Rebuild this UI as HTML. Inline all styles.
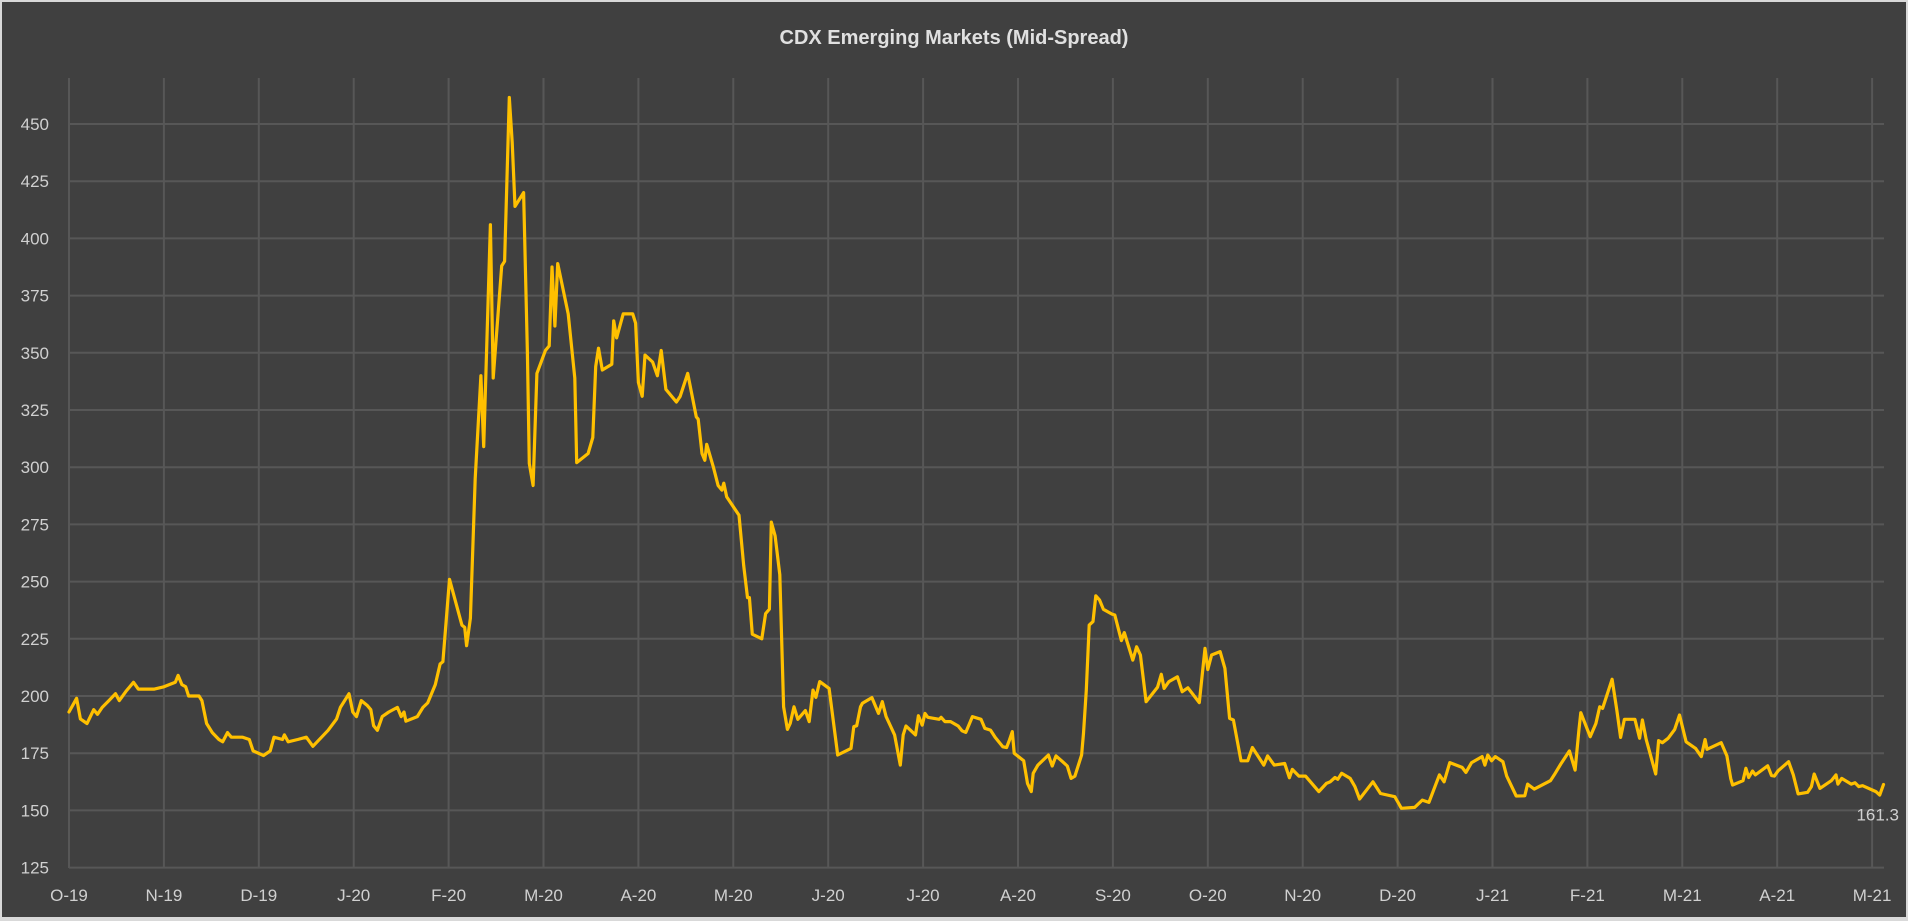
<!DOCTYPE html>
<html><head><meta charset="utf-8"><style>
html,body{margin:0;padding:0;background:#d9d9d9;}
#wrap{position:absolute;left:0;top:0;width:1908px;height:921px;}
svg{display:block}
</style></head><body>
<div id="wrap">
<svg id="chart" width="1908" height="921" viewBox="0 0 1908 921">
<rect x="2" y="2" width="1904" height="915" fill="#404040"/>
<text x="954" y="44" text-anchor="middle" font-family="Liberation Sans, sans-serif" font-weight="bold" font-size="20" fill="#e0e0e0">CDX Emerging Markets (Mid-Spread)</text>
<g id="grid"></g>
<g id="yaxis"></g>
<g id="xaxis"></g>
<g id="series"></g>
</svg>
</div>
<script>
const monthLabels=["O-19","N-19","D-19","J-20","F-20","M-20","A-20","M-20","J-20","J-20","A-20","S-20","O-20","N-20","D-20","J-21","F-21","M-21","A-21","M-21"];
const yTicks=[125,150,175,200,225,250,275,300,325,350,375,400,425,450];
const lastLabel="161.3";
// months since Oct-2019
const times=[0,.08,.12,.19,.26,.30,.35,.42,.49,.53,.60,.68,.73,.83,.90,1.00,1.12,1.15,1.19,1.23,1.26,1.37,1.40,1.45,1.51,1.58,1.62,1.67,1.71,1.83,1.90,1.94,2.05,2.12,2.16,2.25,2.27,2.31,2.41,2.50,2.57,2.73,2.82,2.86,2.95,2.99,3.03,3.08,3.14,3.18,3.21,3.25,3.30,3.37,3.46,3.50,3.53,3.55,3.67,3.73,3.78,3.86,3.91,3.94,
4.01,4.14,4.17,4.19,4.23,4.28,4.34,4.37,4.44,4.47,4.56,4.59,4.64,4.67,4.70,4.79,4.83,4.85,4.89,4.93,5.02,5.06,5.09,5.12,5.15,5.26,5.33,5.35,5.47,5.52,5.55,5.58,5.62,5.72,5.74,5.77,5.84,5.94,5.97,6.00,6.04,6.07,6.15,6.20,6.24,6.29,6.40,6.44,
6.52,6.61,6.63,6.67,6.70,6.72,6.79,6.84,6.88,6.90,6.93,7.06,7.11,7.15,7.17,7.20,7.30,7.34,7.38,7.40,7.44,7.49,
7.53,7.57,7.60,7.64,7.68,7.76,7.80,7.84,7.87,7.91,8.01,8.10,8.24,8.27,8.30,8.34,8.36,8.46,8.53,8.57,8.61,8.70,8.76,8.79,8.82,8.92,8.95,8.99,9.02,9.05,9.17,9.19,9.23,9.29,9.37,9.41,9.45,9.52,9.61,9.65,9.71,9.76,9.84,9.88,9.91,9.94,9.96,10.06,10.10,10.14,10.16,10.21,10.32,10.36,10.40,10.47,10.52,10.56,10.60,10.67,10.69,10.72,10.75,10.79,10.82,10.86,10.90,10.99,11.02,11.09,11.12,11.21,11.25,11.29,11.35,11.47,11.51,11.54,11.59,11.68,11.73,11.79,11.91,11.97,12.00,12.04,12.13,12.18,12.23,12.27,12.35,12.42,12.47,12.59,12.63,12.70,12.81,12.86,12.89,12.96,
13.03,13.09,13.17,13.25,13.29,13.34,13.37,13.41,13.50,13.55,13.60,13.74,13.82,13.97,14.04,14.18,14.26,14.33,14.44,14.49,14.55,14.68,14.72,14.78,14.89,14.92,14.95,14.99,15.03,15.11,15.15,15.25,15.34,15.37,15.44,15.61,15.65,15.72,15.81,15.87,15.91,15.93,16.03,16.09,16.13,16.16,16.26,16.31,16.35,16.39,16.50,16.55,16.58,16.62,16.72,16.75,16.79,16.85,16.92,16.97,17.04,17.14,17.20,17.24,17.26,17.41,17.47,17.51,17.53,17.64,17.67,17.70,17.74,17.77,17.90,17.94,17.97,18.01,18.12,18.17,18.22,18.32,18.36,18.39,18.45,18.57,18.62,18.64,18.68,18.78,18.82,18.86,18.90,19.04,19.08,19.12];
const spreads=[193,199,190,188,194,192,195,198,201,198,202,206,203,203,203,204,206,209,205,204,200,200,198,188,184,181,180,184,182,182,181,176,174,176,182,181,183,180,181,182,178,185,190,195,201,193,191,198,196,194,187,185,191,193,195,191,193,189,191,195,197,205,214,215,
251,231,230,222,234,295,340,309,406,339,388,390,461.6,442,414,420,350,301.6,292,341,351,353,387.5,361.7,389,367,339,302,306,313,344,352,342.5,345,364,356.5,367,367,363,337,331,349,346,340,351,334,328.5,331,
341,322,321,306,303,310,300,292,290,293,287,279,257,243,243,227,225,236,238,276,270,253,
195.3,185.4,188,195.3,189.8,193.6,188.8,202.6,199.4,206.3,203.3,174.2,177.1,186.6,187,195.3,196.8,199.3,192.4,197.5,191,183,169.8,183,186.9,183,191.4,187.3,192.4,190.7,189.8,190.7,188.8,188.8,186.9,184.8,184.1,191,189.8,185.9,185.1,181.9,177.8,177.5,180.8,184.4,175,171.7,161.8,158.2,166.2,169.8,174.2,169.4,173.8,171.3,169.4,164,165,174.2,183.7,202.6,231,232.5,243.8,241.9,237.9,235.8,235.4,224.2,227.7,215.7,221.5,217.9,197.5,203.8,209.5,203.3,206.3,208.4,201.9,203.6,197.1,220.8,211.6,217.9,219.4,212.1,190.2,189.5,171.7,171.7,177.5,169.8,173.8,169.8,170.5,164.3,167.9,165,
165,162.1,158.2,161.8,162.5,164.4,163.6,166.2,164,160.4,155,162.5,157.4,156,150.9,151.3,154.5,153.5,165.5,162.5,170.9,168.8,166.6,170.9,173.5,169.8,174.2,171.7,173.5,171.3,165,156.3,156.4,161.5,159.3,163,165.5,170.3,176,167.6,185.1,192.7,182.2,188,195.3,194.6,207.3,193.9,181.9,189.8,189.8,181.5,189.5,181,165.9,180.5,179.6,181.5,185.4,191.7,180,177.1,173.5,181,176.7,179.6,173.8,164,161.1,163,168.4,164.4,167.2,165.5,169.5,165.2,165,167.3,171.3,165.5,157.2,157.9,160.4,165.9,159.6,163,165.5,161.5,164,161.5,162.1,160.4,160.8,158.2,156.7,161.3];

const NS="http://www.w3.org/2000/svg";
const X0=69,XSTEP=94.9,Y450=124,PXU=57.2/25;
function xScale(t){return X0+t*XSTEP;}
function yScale(v){return Y450+(450-v)*PXU;}
function mk(tag,attrs,parent){const e=document.createElementNS(NS,tag);for(const k in attrs)e.setAttribute(k,attrs[k]);parent.appendChild(e);return e;}
const grid=document.getElementById('grid'),ya=document.getElementById('yaxis'),xa=document.getElementById('xaxis'),ser=document.getElementById('series');
const font="Liberation Sans, sans-serif";
yTicks.forEach(v=>{
  const l=mk('line',{x1:X0,x2:1884,y1:yScale(v),y2:yScale(v),stroke:'#575757','stroke-width':2},grid);
  
  
  const t=mk('text',{x:49,y:yScale(v)+6,'text-anchor':'end','font-family':font,'font-size':17,fill:'#d0d0d0'},ya);
  t.textContent=v;
  
  
});
monthLabels.forEach((m,i)=>{
  const l=mk('line',{x1:xScale(i),x2:xScale(i),y1:78,y2:868,stroke:'#575757','stroke-width':2},grid);
  
  
  const t=mk('text',{x:xScale(i),y:901,'text-anchor':'middle','font-family':font,'font-size':17,fill:'#d0d0d0'},xa);
  t.textContent=m;
  
  
});
const pts=times.map((t,i)=>xScale(t).toFixed(1)+','+yScale(spreads[i]).toFixed(1)).join(' ');
const pl=mk('polyline',{points:pts,fill:'none',stroke:'#FFC000','stroke-width':3.2,'stroke-linejoin':'round','stroke-linecap':'round'},ser);


const n=times.length-1;
const lb=mk('text',{x:1899,y:yScale(spreads[n])+36,'text-anchor':'end','font-family':font,'font-size':17,fill:'#d0d0d0'},ser);
lb.textContent=lastLabel;


</script>
</body></html>
